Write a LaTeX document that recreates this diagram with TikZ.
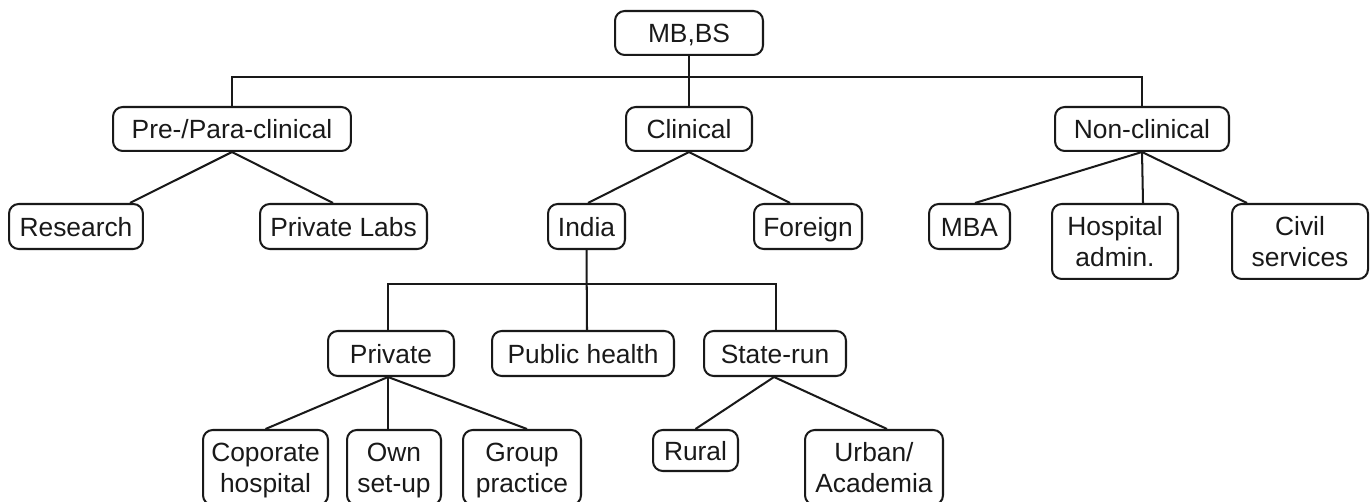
\documentclass[tikz,border=0pt]{standalone}
\usepackage{fontspec}
\setmainfont{Liberation Sans}
\usetikzlibrary{calc}
\tikzset{
  box/.style={draw=black!90, line width=1.15pt, rounded corners=5.5pt, inner sep=0pt, align=center,
    font=\fontsize{15}{17.5}\selectfont, text=black!90, text depth=0pt},
  one/.style={box, text height=11.2pt},
  link/.style={line width=1.15pt, draw=black!90}
}
\begin{document}
\begin{tikzpicture}[x=0.02cm,y=-0.02cm]
\useasboundingbox (0,0) rectangle (1371,502);
% level 0
\node[one, minimum width=2.96cm, minimum height=0.88cm] (mbbs) at (689,33) {MB,BS};
% level 1
\node[one, minimum width=4.76cm, minimum height=0.88cm] (pre) at (232,129) {Pre-/Para-clinical};
\node[one, minimum width=2.52cm, minimum height=0.88cm] (clin) at (689,129) {Clinical};
\node[one, minimum width=3.48cm, minimum height=0.88cm] (non) at (1142,129) {Non-clinical};
% level 2
\node[one, minimum width=2.68cm, minimum height=0.9cm] (research) at (76,226.5) {Research};
\node[one, minimum width=3.34cm, minimum height=0.9cm] (labs) at (343.5,226.5) {Private Labs};
\node[one, minimum width=1.54cm, minimum height=0.9cm] (india) at (586.5,226.5) {India};
\node[one, minimum width=2.16cm, minimum height=0.9cm] (foreign) at (808,226.5) {Foreign};
\node[one, minimum width=1.62cm, minimum height=0.9cm] (mba) at (969.5,226.5) {MBA};
\node[box, minimum width=2.52cm, minimum height=1.5cm] (hosp) at (1115,241.5) {Hospital\\admin.};
\node[box, minimum width=2.72cm, minimum height=1.5cm] (civil) at (1300,241.5) {Civil\\services};
% level 3
\node[one, minimum width=2.52cm, minimum height=0.9cm] (private) at (391,353.5) {Private};
\node[one, minimum width=3.64cm, minimum height=0.9cm] (public) at (583,353.5) {Public health};
\node[one, minimum width=2.84cm, minimum height=0.9cm] (state) at (775,353.5) {State-run};
% level 4
\node[box, minimum width=2.5cm, minimum height=1.5cm] (corp) at (265.5,467.5) {Coporate\\hospital};
\node[box, minimum width=1.88cm, minimum height=1.5cm] (own) at (394,467.5) {Own\\set-up};
\node[box, minimum width=2.36cm, minimum height=1.5cm] (group) at (522,467.5) {Group\\practice};
\node[one, minimum width=1.7cm, minimum height=0.82cm] (rural) at (695.5,450.5) {Rural};
\node[box, minimum width=2.76cm, minimum height=1.5cm] (urban) at (874,467.5) {Urban/\\Academia};
% connectors
\coordinate (bar1) at (689,77);
\coordinate (bar2) at (587,284);
\draw[link] (mbbs.south) -- (clin.north);
\draw[link] (pre.north) |- (bar1) -| (non.north);
\draw[link] (pre.south) -- ($(research.north)+(54,0)$);
\draw[link] (pre.south) -- ($(labs.north)+(-10.5,0)$);
\draw[link] (clin.south) -- ($(india.north)+(1.5,0)$);
\draw[link] (clin.south) -- ($(foreign.north)+(-18,0)$);
\draw[link] (non.south) -- ($(mba.north)+(5.5,0)$);
\draw[link] (non.south) -- ($(hosp.north)+(28,0)$);
\draw[link] (non.south) -- ($(civil.north)+(-53,0)$);
\draw[link] (india.south) -- ($(public.north)+(4,0)$);
\draw[link] ($(private.north)+(-3,0)$) |- (bar2) -| ($(state.north)+(1,0)$);
\draw[link] ($(private.south)+(-3,0)$) -- (corp.north);
\draw[link] ($(private.south)+(-3,0)$) -- ($(own.north)+(-6,0)$);
\draw[link] ($(private.south)+(-3,0)$) -- ($(group.north)+(5,0)$);
\draw[link] ($(state.south)+(-1,0)$) -- (rural.north);
\draw[link] ($(state.south)+(-1,0)$) -- ($(urban.north)+(13,0)$);
\end{tikzpicture}
\end{document}
